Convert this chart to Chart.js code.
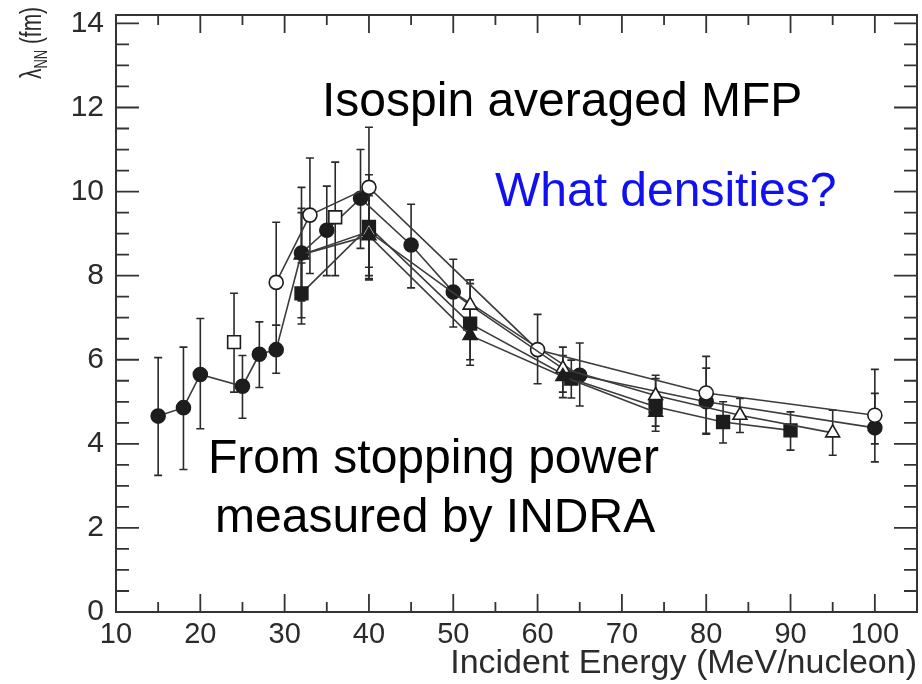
<!DOCTYPE html>
<html lang="en">
<head>
<meta charset="UTF-8">
<title>Nucleon mean free path vs incident energy</title>
<style>
  html, body { margin: 0; padding: 0; background: #fff; }
  #wrap { width: 922px; height: 684px; }
</style>
<script src="https://cdn.jsdelivr.net/npm/chart.js"></script>
</head>
<body>
<div id="wrap"><canvas id="mfp" width="922" height="684"></canvas></div>
<script>
// lambda_NN (fm) against incident energy (MeV/nucleon), one set of arrays per system
const xeSnEnergy = [15, 18, 20, 25, 27, 29, 32, 35, 39, 45, 50, 65, 80, 100];
const xeSnLambda = [4.66, 4.86, 5.65, 5.37, 6.13, 6.24, 8.54, 9.08, 9.84, 8.73, 7.61, 5.63, 5.00, 4.38];
const xeSnHigh   = [6.05, 6.30, 6.98, 6.10, 6.90, 6.82, 10.1, 10.13, 11.0, 9.70, 8.39, 6.40, 5.80, 5.20];
const xeSnLow    = [3.25, 3.39, 4.36, 4.61, 5.34, 5.68, 7.00, 8.00, 8.65, 7.71, 6.78, 4.90, 4.25, 3.57];

const niNiEnergy = [32, 40, 52, 64, 74, 82, 90];
const niNiLambda = [7.58, 9.16, 6.86, 5.55, 4.88, 4.52, 4.32];
const niNiHigh   = [8.30, 10.4, 7.81, 5.99, 5.63, 5.00, 4.76];
const niNiLow    = [6.85, 7.90, 5.87, 5.09, 4.42, 4.02, 3.85];

const auAuEnergy = [29, 33, 40, 60, 80, 100];
const auAuLambda = [7.84, 9.44, 10.1, 6.24, 5.21, 4.68];
const auAuHigh   = [9.27, 10.8, 11.53, 7.08, 6.08, 5.77];
const auAuLow    = [6.82, 8.05, 7.93, 5.43, 4.23, 4.00];

const arNiEnergy = [32, 40, 52, 63, 74, 84, 95];
const arNiLambda = [8.50, 9.05, 7.30, 5.79, 5.15, 4.68, 4.26];
const arNiHigh   = [9.60, 10.2, 7.90, 6.30, 5.55, 5.08, 4.80];
const arNiLow    = [7.40, 8.20, 6.60, 5.23, 4.70, 4.27, 3.73];

const arKclEnergy = [32, 40, 52, 63, 74];
const arKclLambda = [8.50, 8.95, 6.58, 5.60, 4.75];
const arKclHigh   = [9.50, 9.90, 7.20, 6.10, 5.20];
const arKclLow    = [7.50, 8.00, 6.00, 5.10, 4.30];

const gdUEnergy = [24, 36];
const gdULambda = [6.42, 9.39];
const gdUHigh   = [7.58, 10.7];
const gdULow    = [5.23, 8.00];

const xTickValues = [10, 20, 30, 40, 50, 60, 70, 80, 90, 100];
const yTickValues = [0, 2, 4, 6, 8, 10, 12, 14];

const ink = '#1d1d1d';
const lineGrey = '#3c3c3c';
const sans = "'Liberation Sans', Arial, Helvetica, sans-serif";

const pts = (xs, ys) => xs.map((x, i) => ({ x: x, y: ys[i] }));

function series(xs, ys, hi, lo, style, filled, radius, joined) {
  return {
    data: pts(xs, ys),
    errHigh: hi,
    errLow: lo,
    showLine: joined,
    borderColor: lineGrey,
    borderWidth: 1.6,
    pointStyle: style,
    pointRadius: radius,
    pointBorderWidth: 1.6,
    pointBorderColor: ink,
    pointBackgroundColor: filled ? ink : '#ffffff'
  };
}

// vertical error bars with small caps, drawn under the markers
const errorBars = {
  id: 'errorBars',
  beforeDatasetsDraw(chart) {
    const ctx = chart.ctx;
    const yScale = chart.scales.y;
    ctx.save();
    ctx.strokeStyle = '#2a2a2a';
    ctx.lineWidth = 1.6;
    chart.data.datasets.forEach((ds, i) => {
      const meta = chart.getDatasetMeta(i);
      meta.data.forEach((pt, j) => {
        const top = yScale.getPixelForValue(ds.errHigh[j]);
        const bot = yScale.getPixelForValue(ds.errLow[j]);
        ctx.beginPath();
        ctx.moveTo(pt.x, top); ctx.lineTo(pt.x, bot);
        ctx.moveTo(pt.x - 4, top); ctx.lineTo(pt.x + 4, top);
        ctx.moveTo(pt.x - 4, bot); ctx.lineTo(pt.x + 4, bot);
        ctx.stroke();
      });
    });
    ctx.restore();
  }
};

// closed frame with inward ticks on all four sides, plus the rotated y title
const frame = {
  id: 'frame',
  afterDatasetsDraw(chart) {
    const { ctx, chartArea: a, scales: { x, y } } = chart;
    ctx.save();
    ctx.strokeStyle = '#333';
    ctx.lineWidth = 2;
    ctx.strokeRect(a.left, a.top, a.right - a.left, a.bottom - a.top);
    ctx.lineWidth = 1.8;
    ctx.beginPath();
    for (let v = 15; v < 105; v += 5) {
      const px = x.getPixelForValue(v);
      const len = v % 10 === 0 ? 18 : 10;
      ctx.moveTo(px, a.bottom); ctx.lineTo(px, a.bottom - len);
      ctx.moveTo(px, a.top); ctx.lineTo(px, a.top + len);
    }
    for (let v = 0.5; v <= 14; v += 0.5) {
      const py = y.getPixelForValue(v);
      const len = v % 2 === 0 ? 23 : 13;
      ctx.moveTo(a.left, py); ctx.lineTo(a.left + len, py);
      ctx.moveTo(a.right, py); ctx.lineTo(a.right - len, py);
    }
    ctx.stroke();

    // lambda with NN subscript, then (fm); squeezed along the text direction
    ctx.translate(41, 79);
    ctx.rotate(-Math.PI / 2);
    ctx.scale(0.72, 1);
    ctx.fillStyle = '#2b2b2b';
    ctx.textBaseline = 'alphabetic';
    ctx.textAlign = 'left';
    ctx.font = '29px ' + sans;
    ctx.fillText('\u03bb', 0, 0);
    let w = ctx.measureText('\u03bb').width;
    ctx.font = '18px ' + sans;
    ctx.fillText('NN', w, 6);
    w += ctx.measureText('NN').width + 8;
    ctx.font = '29px ' + sans;
    ctx.fillText('(fm)', w, 0);
    ctx.restore();
  }
};

// slide annotations
const notes = {
  id: 'notes',
  afterDraw(chart) {
    const ctx = chart.ctx;
    ctx.save();
    ctx.font = '48px ' + sans;
    ctx.textBaseline = 'alphabetic';
    ctx.fillStyle = '#000';
    ctx.fillText('Isospin averaged MFP', 322, 116);
    ctx.fillText('From stopping power', 208, 473);
    ctx.fillText('measured by INDRA', 215, 532);
    ctx.fillStyle = '#1010f0';
    ctx.fillText('What densities?', 495, 206);
    ctx.restore();
  }
};

new Chart(document.getElementById('mfp'), {
  type: 'scatter',
  data: {
    datasets: [
      series(gdUEnergy, gdULambda, gdUHigh, gdULow, 'rect', false, 9, false),
      series(arKclEnergy, arKclLambda, arKclHigh, arKclLow, 'triangle', true, 8, true),
      series(arNiEnergy, arNiLambda, arNiHigh, arNiLow, 'triangle', false, 8, true),
      series(auAuEnergy, auAuLambda, auAuHigh, auAuLow, 'circle', false, 7, true),
      series(niNiEnergy, niNiLambda, niNiHigh, niNiLow, 'rect', true, 9, true),
      series(xeSnEnergy, xeSnLambda, xeSnHigh, xeSnLow, 'circle', true, 7, true)
    ]
  },
  options: {
    responsive: false,
    animation: false,
    devicePixelRatio: 1,
    layout: { autoPadding: false, padding: { top: 15, right: 5, left: 0, bottom: 0 } },
    plugins: { legend: { display: false }, tooltip: { enabled: false } },
    scales: {
      x: {
        type: 'linear',
        min: 10,
        max: 105,
        grid: { display: false, drawTicks: false },
        border: { display: false },
        afterBuildTicks: s => { s.ticks = xTickValues.map(v => ({ value: v })); },
        afterFit: s => { s.height = 72; s.paddingLeft = 0; s.paddingRight = 0; },
        ticks: { padding: 6, color: '#2b2b2b', font: { family: sans, size: 29 }, maxRotation: 0 },
        title: {
          display: true,
          text: 'Incident Energy (MeV/nucleon)',
          align: 'end',
          color: '#2b2b2b',
          font: { family: sans, size: 34 },
          padding: { top: 0, bottom: 0 }
        }
      },
      y: {
        type: 'linear',
        min: 0,
        max: 14.2,
        grid: { display: false, drawTicks: false },
        border: { display: false },
        afterBuildTicks: s => { s.ticks = yTickValues.map(v => ({ value: v })); },
        afterFit: s => { s.width = 116; s.paddingTop = 0; s.paddingBottom = 0; },
        ticks: { padding: 12, color: '#2b2b2b', font: { family: sans, size: 30 } }
      }
    }
  },
  plugins: [errorBars, frame, notes]
});
</script>
</body>
</html>
